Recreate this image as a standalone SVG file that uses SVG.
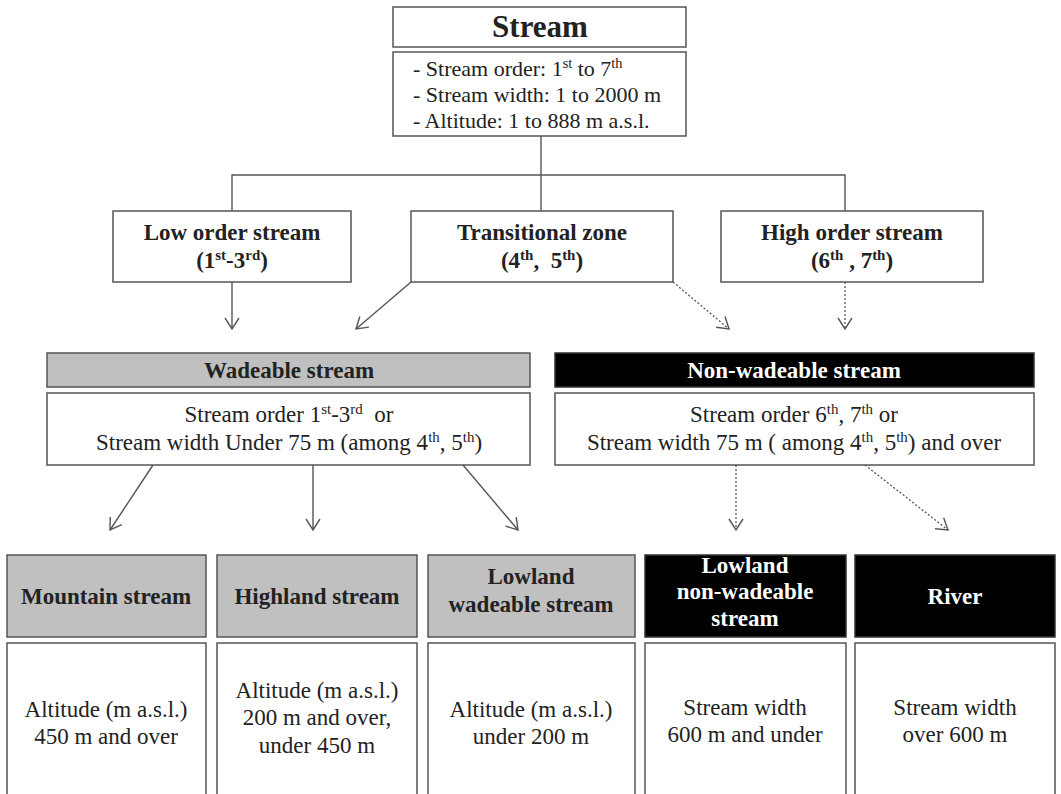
<svg xmlns="http://www.w3.org/2000/svg" width="1061" height="794" viewBox="0 0 1061 794">
<defs>
<style>
text{font-family:"Liberation Serif","Times New Roman",serif;fill:#222;white-space:pre}
.b{font-weight:bold}
.c{text-anchor:middle}
.w{fill:#fff}
.box{fill:#fff;stroke:#555;stroke-width:1.5}
.gray{fill:#c0c0c0;stroke:#555;stroke-width:1.5}
.blk{fill:#000;stroke:#333;stroke-width:1.5}
.ln{fill:none;stroke:#555;stroke-width:1.4}
.dot{fill:none;stroke:#555;stroke-width:1.3;stroke-dasharray:2 2}
.sup{font-size:65%}
.t{font-size:23px}
</style>
<marker id="arr" markerUnits="userSpaceOnUse" viewBox="-12 -8 14 16" refX="0" refY="0" markerWidth="14" markerHeight="16" orient="auto">
<path d="M-11,-7 L0,0 L-11,7" fill="none" stroke="#555" stroke-width="1.4"/>
</marker>
</defs>

<g id="connectors">
<path class="ln" d="M541,136 V211"/>
<path class="ln" d="M232,211 V175 H845 V211"/>
<path class="ln" d="M232,282 V329" marker-end="url(#arr)"/>
<path class="ln" d="M411,282 L356,329" marker-end="url(#arr)"/>
<path class="dot" d="M673,282 L729,329" marker-end="url(#arr)"/>
<path class="dot" d="M845,282 V329" marker-end="url(#arr)"/>
<path class="ln" d="M153,465 L110,530" marker-end="url(#arr)"/>
<path class="ln" d="M313,465 V530" marker-end="url(#arr)"/>
<path class="ln" d="M463,465 L518,530" marker-end="url(#arr)"/>
<path class="dot" d="M736,465 V530" marker-end="url(#arr)"/>
<path class="dot" d="M865,465 L948,530" marker-end="url(#arr)"/>
</g>

<g id="stream">
<rect class="box" x="393" y="7" width="293" height="40"/>
<text class="b c" x="540" y="37" font-size="31">Stream</text>
</g>
<g id="stream-info">
<rect class="box" x="393" y="52" width="293" height="84"/>
<text x="413" y="76" font-size="22">- Stream order: 1<tspan class="sup" baseline-shift="super">st</tspan> to 7<tspan class="sup" baseline-shift="super">th</tspan></text>
<text x="413" y="102" font-size="22">- Stream width: 1 to 2000 m</text>
<text x="413" y="128" font-size="22">- Altitude: 1 to 888 m a.s.l.</text>
</g>

<g id="low-order">
<rect class="box" x="113" y="211" width="238" height="71"/>
<text class="b c t" x="232" y="240">Low order stream</text>
<text class="b c t" x="232" y="268">(1<tspan class="sup" baseline-shift="super">st</tspan>-3<tspan class="sup" baseline-shift="super">rd</tspan>)</text>
</g>
<g id="transitional">
<rect class="box" x="411" y="211" width="262" height="71"/>
<text class="b c t" x="542" y="240">Transitional zone</text>
<text class="b c t" x="542" y="268">(4<tspan class="sup" baseline-shift="super">th</tspan>,  5<tspan class="sup" baseline-shift="super">th</tspan>)</text>
</g>
<g id="high-order">
<rect class="box" x="721" y="211" width="262" height="71"/>
<text class="b c t" x="852" y="240">High order stream</text>
<text class="b c t" x="852" y="268">(6<tspan class="sup" baseline-shift="super">th</tspan> , 7<tspan class="sup" baseline-shift="super">th</tspan>)</text>
</g>

<g id="wadeable">
<rect class="gray" x="47" y="353" width="483" height="34"/>
<text class="b c t" x="289" y="378">Wadeable stream</text>
<rect class="box" x="47" y="393" width="483" height="72"/>
<text class="c t" x="289" y="422">Stream order 1<tspan class="sup" baseline-shift="super">st</tspan>-3<tspan class="sup" baseline-shift="super">rd</tspan>  or</text>
<text class="c t" x="289" y="450">Stream width Under 75 m (among 4<tspan class="sup" baseline-shift="super">th</tspan>, 5<tspan class="sup" baseline-shift="super">th</tspan>)</text>
</g>
<g id="non-wadeable">
<rect class="blk" x="555" y="353" width="479" height="34"/>
<text class="b c w t" x="794" y="378">Non-wadeable stream</text>
<rect class="box" x="555" y="393" width="479" height="72"/>
<text class="c t" x="794" y="422">Stream order 6<tspan class="sup" baseline-shift="super">th</tspan>, 7<tspan class="sup" baseline-shift="super">th</tspan> or</text>
<text class="c t" x="794" y="450">Stream width 75 m ( among 4<tspan class="sup" baseline-shift="super">th</tspan>, 5<tspan class="sup" baseline-shift="super">th</tspan>) and over</text>
</g>

<g id="mountain">
<rect class="gray" x="7" y="555" width="199" height="82"/>
<text class="b c t" x="106" y="604">Mountain stream</text>
<rect class="box" x="7" y="643" width="199" height="160"/>
<text class="c t" x="106" y="717">Altitude (m a.s.l.)</text>
<text class="c t" x="106" y="744">450 m and over</text>
</g>
<g id="highland">
<rect class="gray" x="217" y="555" width="200" height="82"/>
<text class="b c t" x="317" y="604">Highland stream</text>
<rect class="box" x="217" y="643" width="200" height="160"/>
<text class="c t" x="317" y="698">Altitude (m a.s.l.)</text>
<text class="c t" x="317" y="725">200 m and over,</text>
<text class="c t" x="317" y="753">under 450 m</text>
</g>
<g id="lowland-wadeable">
<rect class="gray" x="428" y="555" width="207" height="82"/>
<text class="b c t" x="531" y="584">Lowland</text>
<text class="b c t" x="531" y="612">wadeable stream</text>
<rect class="box" x="428" y="643" width="207" height="160"/>
<text class="c t" x="531" y="717">Altitude (m a.s.l.)</text>
<text class="c t" x="531" y="744">under 200 m</text>
</g>
<g id="lowland-non-wadeable">
<rect class="blk" x="645" y="555" width="201" height="82"/>
<text class="b c w t" x="745" y="573">Lowland</text>
<text class="b c w t" x="745" y="599">non-wadeable</text>
<text class="b c w t" x="745" y="626">stream</text>
<rect class="box" x="645" y="643" width="201" height="160"/>
<text class="c t" x="745" y="715">Stream width</text>
<text class="c t" x="745" y="742">600 m and under</text>
</g>
<g id="river">
<rect class="blk" x="855" y="555" width="200" height="82"/>
<text class="b c w t" x="955" y="604">River</text>
<rect class="box" x="855" y="643" width="200" height="160"/>
<text class="c t" x="955" y="715">Stream width</text>
<text class="c t" x="955" y="742">over 600 m</text>
</g>
</svg>
